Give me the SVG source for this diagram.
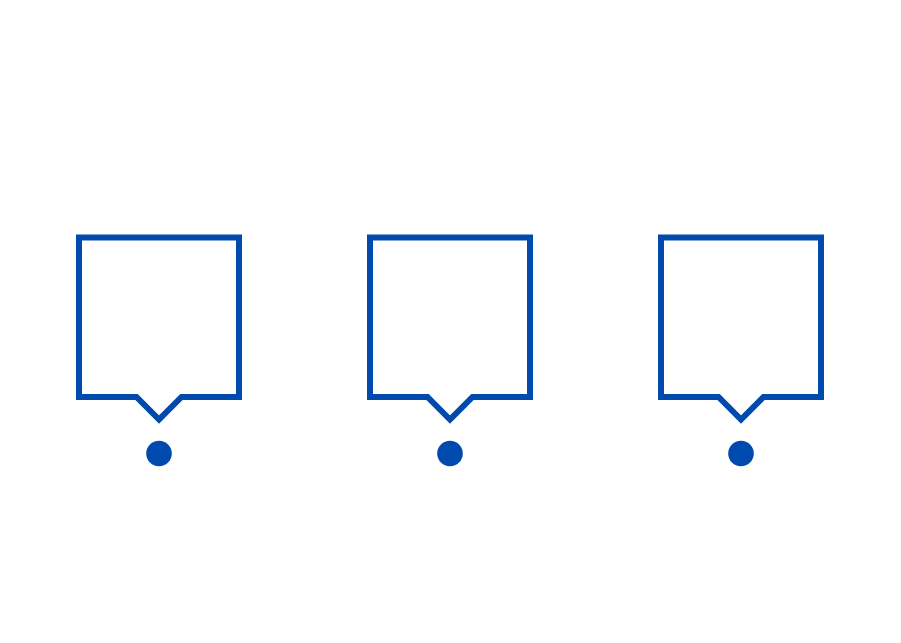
<svg xmlns="http://www.w3.org/2000/svg" width="901" height="643" viewBox="0 0 901 643">
<style>
.box{fill:#ffffff;stroke:#004aad;stroke-width:6;stroke-linejoin:miter}
.dot{fill:#004aad}
</style>
<defs>
<path id="callout" d="M-80,-216 H80 V-56.5 H22.5 L0,-34 L-22.5,-56.5 H-80 Z"/>
</defs>
<rect width="901" height="643" fill="#ffffff"/>
<g id="node1" transform="translate(159,453.5)">
<use href="#callout" class="box"/>
<circle class="dot" cx="0" cy="0" r="12.8"/>
</g>
<g id="node2" transform="translate(450,453.5)">
<use href="#callout" class="box"/>
<circle class="dot" cx="0" cy="0" r="12.8"/>
</g>
<g id="node3" transform="translate(741,453.5)">
<use href="#callout" class="box"/>
<circle class="dot" cx="0" cy="0" r="12.8"/>
</g>
<g id="connectors"/>
</svg>
